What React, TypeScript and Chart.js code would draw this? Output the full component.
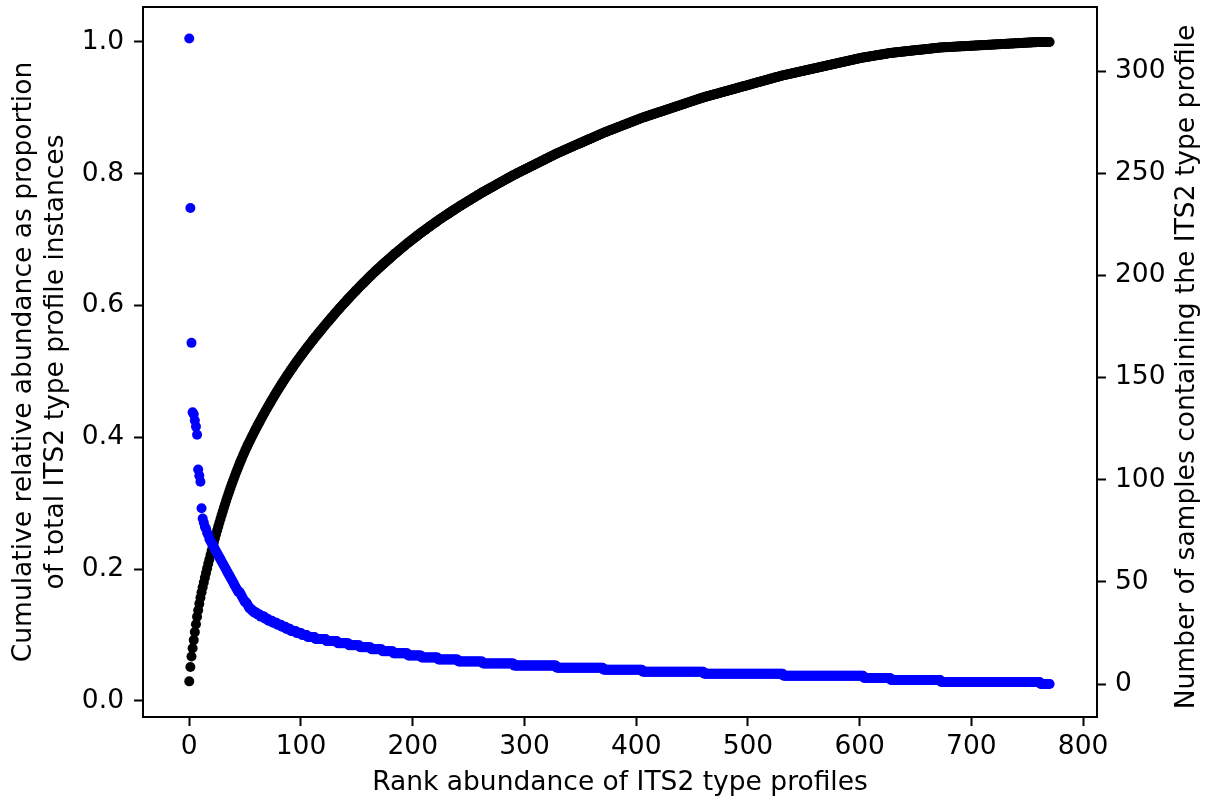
import React, { useEffect, useRef } from "react";
import { Chart, registerables } from "chart.js";

Chart.register(...registerables);

// ---- data ----
const xTickValues = [0, 100, 200, 300, 400, 500, 600, 700, 800];
const leftTickValues = [0, 0.2, 0.4, 0.6, 0.8, 1.0];
const rightTickValues = [0, 50, 100, 150, 200, 250, 300];

// samples containing each profile, ranks 0..100
const blueHead = [
  316, 233, 167, 133, 132, 129, 126, 122, 105, 102, 99,
  86, 81, 79, 77, 76, 74, 73, 71, 70, 69,
  68, 67, 66, 65, 64, 63, 62, 61, 60, 59,
  58, 57, 56, 55, 54, 53, 52, 51, 50, 49,
  48, 47, 46, 45, 45, 44, 43, 42, 41, 40,
  40, 39, 38, 37, 37, 36, 36, 35, 35, 35,
  34, 34, 34, 33, 33, 33, 33, 32, 32, 32,
  31, 31, 31, 31, 30, 30, 30, 30, 29, 29,
  29, 29, 28, 28, 28, 28, 27, 27, 27, 27,
  26, 26, 26, 26, 26, 25, 25, 25, 25, 25,
];
// ranks 101..770 as plateaus: level and number of profiles at that level
const tailLevels = [24, 23, 22, 21, 20, 19, 18, 17, 16, 15, 14, 13, 12, 11, 10, 9, 8, 7, 6, 5, 4, 3, 2, 1, 0];
const tailCounts = [5, 7, 10, 10, 10, 10, 10, 10, 10, 13, 12, 15, 18, 22, 28, 38, 42, 35, 55, 71, 72, 24, 45, 89, 9];

const xTitle = "Rank abundance of ITS2 type profiles";
const leftTitle = ["Cumulative relative abundance as proportion", "of total ITS2 type profile instances"];
const rightTitle = "Number of samples containing the ITS2 type profile";

// ---- build series ----
const blueCounts: number[] = [...blueHead];
tailLevels.forEach((lv, i) => {
  for (let k = 0; k < tailCounts[i]; k++) blueCounts.push(lv);
});
const totalCount = blueCounts.reduce((a, b) => a + b, 0);
let running = 0;
const cumulative = blueCounts.map((c) => {
  running += c;
  return running / totalCount;
});

const bluePoints = blueCounts.map((v, i) => ({ x: i, y: v }));
const blackPoints = cumulative.map((v, i) => ({ x: i, y: v }));

const FONT_FAMILY = "'DejaVu Sans', sans-serif";
const FONT = { family: FONT_FAMILY, size: 26.5 };
const TXT = "#000000";

const frame = {
  id: "frame",
  afterDraw(chart: any) {
    const { ctx, chartArea } = chart;
    ctx.save();
    ctx.strokeStyle = "#000";
    ctx.lineWidth = 2;
    ctx.strokeRect(chartArea.left, chartArea.top, chartArea.right - chartArea.left, chartArea.bottom - chartArea.top);
    // right axis title, reading bottom-to-top like the reference
    ctx.fillStyle = TXT;
    ctx.font = `26.5px ${FONT_FAMILY}`;
    ctx.textAlign = "center";
    ctx.textBaseline = "middle";
    ctx.translate(1187, (chartArea.top + chartArea.bottom) / 2 + 5);
    ctx.rotate(-Math.PI / 2);
    ctx.fillText(rightTitle, 0, 0);
    ctx.restore();
  },
};

const noPad = (s: any) => {
  s.paddingTop = 0;
  s.paddingBottom = 0;
  s.paddingLeft = 0;
  s.paddingRight = 0;
};

export default function App() {
  const ref = useRef<HTMLCanvasElement | null>(null);
  useEffect(() => {
    if (!ref.current) return;
    const tickGrid = {
      display: true,
      drawOnChartArea: false,
      drawTicks: true,
      tickLength: 9,
      tickWidth: 2,
      tickColor: "#000",
    };
    const chart = new Chart(ref.current, {
      type: "scatter",
      data: {
        datasets: [
          {
            label: "samples",
            data: bluePoints,
            yAxisID: "y1",
            backgroundColor: "#0000ff",
            borderWidth: 0,
            pointRadius: 5,
            order: 0,
          },
          {
            label: "cumulative",
            data: blackPoints,
            yAxisID: "y",
            backgroundColor: "#000000",
            borderWidth: 0,
            pointRadius: 5,
            order: 1,
          },
        ],
      },
      options: {
        animation: false,
        responsive: false,
        devicePixelRatio: 1,
        layout: { padding: { top: 7, left: 0, right: 0, bottom: 0 } },
        plugins: { legend: { display: false }, tooltip: { enabled: false } },
        scales: {
          x: {
            type: "linear",
            position: "bottom",
            min: -41.4,
            max: 812.4,
            afterBuildTicks: (s: any) => {
              s.ticks = xTickValues.map((v) => ({ value: v }));
            },
            afterFit: (s: any) => {
              s.height = 86;
              noPad(s);
            },
            grid: tickGrid,
            border: { display: true, color: "#000", width: 2 },
            ticks: { font: FONT, color: TXT, padding: 5, maxRotation: 0, callback: (v: any) => String(v) },
            title: { display: true, text: xTitle, font: FONT, color: TXT, padding: { top: 0, bottom: 4 } },
          },
          y: {
            type: "linear",
            position: "left",
            min: -0.0243,
            max: 1.0531,
            afterBuildTicks: (s: any) => {
              s.ticks = leftTickValues.map((v) => ({ value: v }));
            },
            afterFit: (s: any) => {
              s.width = 143;
              noPad(s);
            },
            grid: tickGrid,
            border: { display: true, color: "#000", width: 2 },
            ticks: { font: FONT, color: TXT, padding: 10, callback: (v: any) => Number(v).toFixed(1) },
            title: { display: true, text: leftTitle, font: FONT, color: TXT, padding: { top: 8, bottom: 0 } },
          },
          y1: {
            type: "linear",
            position: "right",
            min: -16.15,
            max: 331.4,
            afterBuildTicks: (s: any) => {
              s.ticks = rightTickValues.map((v) => ({ value: v }));
            },
            afterFit: (s: any) => {
              s.width = 110;
              noPad(s);
            },
            grid: tickGrid,
            border: { display: true, color: "#000", width: 2 },
            ticks: { font: FONT, color: TXT, padding: 9, callback: (v: any) => String(v) },
            title: { display: false },
          },
        },
      },
      plugins: [frame],
    });
    return () => chart.destroy();
  }, []);

  return (
    <div style={{ position: "fixed", left: 0, top: 0, width: 1207, height: 803, background: "#fff" }}>
      <canvas ref={ref} width={1207} height={803} style={{ width: 1207, height: 803, display: "block" }} />
    </div>
  );
}
